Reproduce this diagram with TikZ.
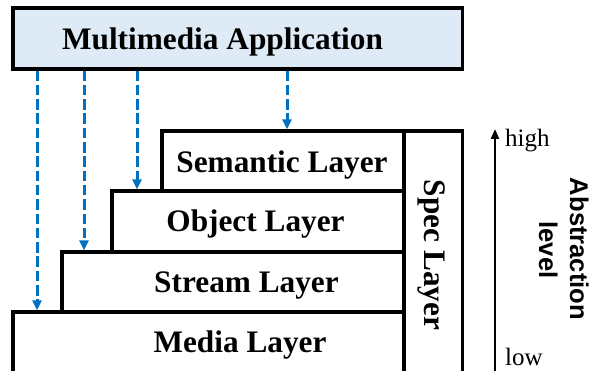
\documentclass[tikz,border=0pt]{standalone}
\usepackage{fontspec}
\setmainfont{Liberation Serif}
\newfontfamily\sansbold{Liberation Sans}[BoldFont={Liberation Sans Bold}]
\usetikzlibrary{arrows.meta}

\definecolor{appfill}{RGB}{222,235,247}
\definecolor{callblue}{RGB}{0,112,192}

\tikzset{
  layerbox/.style={draw=black, line width=3.2pt, fill=white, inner sep=0pt},
  appbox/.style={layerbox, fill=appfill},
  boxtext/.style={font=\fontsize{31.3}{37}\selectfont\bfseries, inner sep=0pt, anchor=base},
  scaletext/.style={font=\fontsize{25}{30}\selectfont, inner sep=0pt, anchor=base west},
  axistext/.style={font=\sansbold\fontsize{25.6}{31}\selectfont\bfseries, inner sep=0pt, anchor=base, rotate=-90},
  call/.style={draw=callblue, line width=3pt, dash pattern=on 10.5pt off 3.8pt,
    -{Triangle[length=10pt,width=9pt]}},
  levelarrow/.style={draw=black, line width=2.4pt, -{Triangle[length=10pt,width=8pt]}}
}

\begin{document}
\begin{tikzpicture}[x=1pt, y=-1pt]
  \useasboundingbox (0,0) rectangle (595,371);
  \clip (0,0) rectangle (595,371);

  % application box
  \node[appbox, minimum width=449.5pt, minimum height=61pt] (app) at (237.75,38.5) {};
  \node[boxtext] (appT) at (222.5,50) {Multimedia Application};

  % stacked layers, bottom to top
  \node[layerbox, minimum width=391pt, minimum height=61pt] (med) at (208.5,342.5) {};
  \node[layerbox, minimum width=342pt, minimum height=60pt] (str) at (233,282) {};
  \node[layerbox, minimum width=292pt, minimum height=61pt] (obj) at (258,221.5) {};
  \node[layerbox, minimum width=242pt, minimum height=60pt] (sem) at (283,161) {};
  \node[layerbox, minimum width=58.5pt, minimum height=242pt] (spec) at (433.25,252) {};

  \node[boxtext] (medT) at (240,353) {Media Layer};
  \node[boxtext] (strT) at (246.5,293) {Stream Layer};
  \node[boxtext] (objT) at (255.5,232) {Object Layer};
  \node[boxtext] (semT) at (282,173) {Semantic Layer};
  \node[boxtext, rotate=-90] (specT) at (424,255) {Spec Layer};

  % calls from the application into each layer
  \draw[call] (app.south -| 37,0) -- (med.north -| 37,0);
  \draw[call] (app.south -| 84,0) -- (str.north -| 84,0);
  \draw[call] (app.south -| 137,0) -- (obj.north -| 137,0);
  \draw[call] (app.south -| 287,0) -- (sem.north -| 287,0);

  % abstraction scale
  \coordinate (lowEnd) at (495,372);
  \coordinate (highEnd) at (495,129);
  \draw[levelarrow] (lowEnd) -- (highEnd);
  \node[scaletext] (highT) at (505,147) {high};
  \node[scaletext] (lowT) at (505,366) {low};
  \node[axistext] (absT) at (570,249) {Abstraction};
  \node[axistext] (lvlT) at (539,250) {level};
\end{tikzpicture}
\end{document}
